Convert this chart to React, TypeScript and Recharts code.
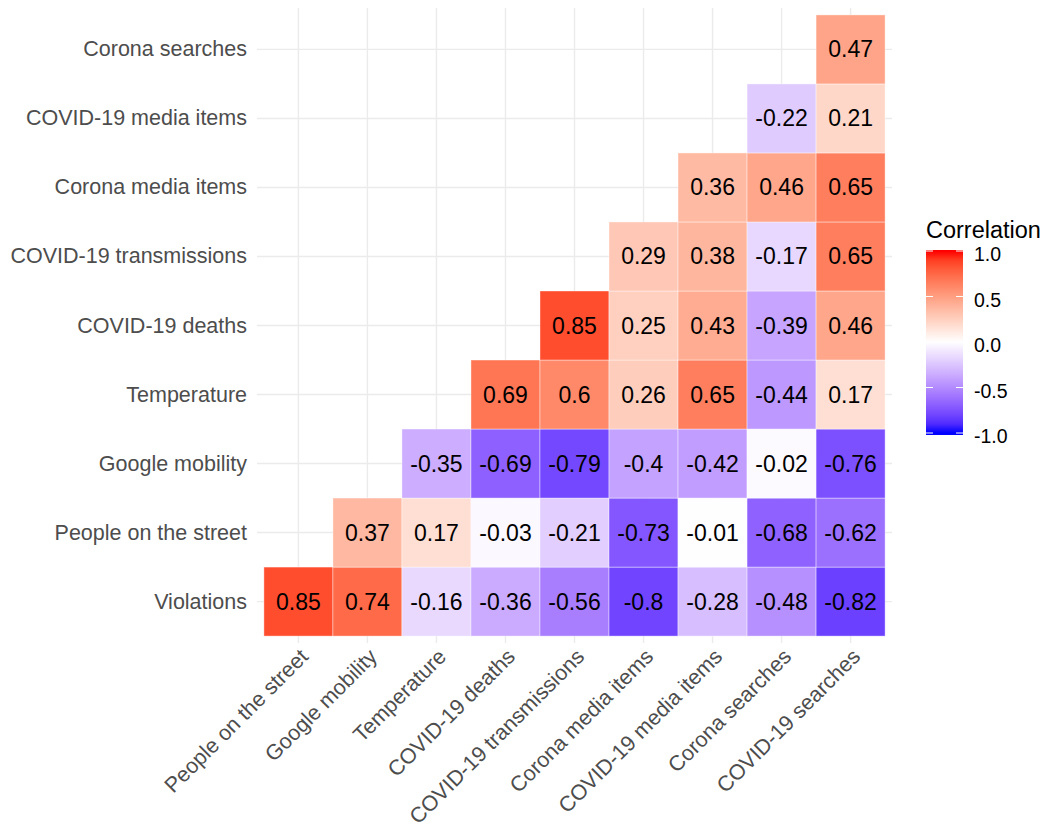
import { CartesianGrid, Scatter, ScatterChart, XAxis, YAxis } from "recharts";

const xLabels = [
  "People on the street",
  "Google mobility",
  "Temperature",
  "COVID-19 deaths",
  "COVID-19 transmissions",
  "Corona media items",
  "COVID-19 media items",
  "Corona searches",
  "COVID-19 searches",
];

// bottom to top
const yLabels = [
  "Violations",
  "People on the street",
  "Google mobility",
  "Temperature",
  "COVID-19 deaths",
  "COVID-19 transmissions",
  "Corona media items",
  "COVID-19 media items",
  "Corona searches",
];

// each row lines up with xLabels, null = empty (upper triangle)
const violations = [0.85, 0.74, -0.16, -0.36, -0.56, -0.8, -0.28, -0.48, -0.82];
const peopleOnStreet = [null, 0.37, 0.17, -0.03, -0.21, -0.73, -0.01, -0.68, -0.62];
const googleMobility = [null, null, -0.35, -0.69, -0.79, -0.4, -0.42, -0.02, -0.76];
const temperature = [null, null, null, 0.69, 0.6, 0.26, 0.65, -0.44, 0.17];
const covidDeaths = [null, null, null, null, 0.85, 0.25, 0.43, -0.39, 0.46];
const covidTransmissions = [null, null, null, null, null, 0.29, 0.38, -0.17, 0.65];
const coronaMedia = [null, null, null, null, null, null, 0.36, 0.46, 0.65];
const covidMedia = [null, null, null, null, null, null, null, -0.22, 0.21];
const coronaSearches = [null, null, null, null, null, null, null, null, 0.47];

const rows = [
  violations,
  peopleOnStreet,
  googleMobility,
  temperature,
  covidDeaths,
  covidTransmissions,
  coronaMedia,
  covidMedia,
  coronaSearches,
];

const legendTicks = [1, 0.5, 0, -0.5, -1];

// layout
const WIDTH = 1046;
const HEIGHT = 831;
const PLOT_LEFT = 257;
const PLOT_TOP = 8;
const PLOT_RIGHT = 892;
const PLOT_BOTTOM = 643;
const DOMAIN: [number, number] = [-0.6, 8.6];
const CELL = (PLOT_RIGHT - PLOT_LEFT) / (DOMAIN[1] - DOMAIN[0]);
const FONT = "'Liberation Sans', Arial, Helvetica, sans-serif";
const IDX = xLabels.map((_, i) => i);

// --- gradient2 (blue - white - red) interpolated in Lab, like ggplot ---
type Lab = [number, number, number];

function toLab(hex: string): Lab {
  const c = [1, 3, 5].map((i) => parseInt(hex.slice(i, i + 2), 16) / 255);
  const lin = c.map((v) => (v <= 0.04045 ? v / 12.92 : Math.pow((v + 0.055) / 1.055, 2.4)));
  const [r, g, b] = lin;
  const X = (0.4124 * r + 0.3576 * g + 0.1805 * b) / 0.95047;
  const Y = 0.2126 * r + 0.7152 * g + 0.0722 * b;
  const Z = (0.0193 * r + 0.1192 * g + 0.9505 * b) / 1.08883;
  const f = (t: number) => (t > 0.008856 ? Math.cbrt(t) : 7.787 * t + 16 / 116);
  const fx = f(X), fy = f(Y), fz = f(Z);
  return [116 * fy - 16, 500 * (fx - fy), 200 * (fy - fz)];
}

function fromLab([L, a, bb]: Lab): string {
  const fy = (L + 16) / 116;
  const fx = fy + a / 500;
  const fz = fy - bb / 200;
  const inv = (t: number) => (t * t * t > 0.008856 ? t * t * t : (t - 16 / 116) / 7.787);
  const X = inv(fx) * 0.95047, Y = inv(fy), Z = inv(fz) * 1.08883;
  const r = 3.2406 * X - 1.5372 * Y - 0.4986 * Z;
  const g = -0.9689 * X + 1.8758 * Y + 0.0415 * Z;
  const b = 0.0557 * X - 0.204 * Y + 1.057 * Z;
  const enc = (v: number) => {
    const s = v <= 0.0031308 ? 12.92 * v : 1.055 * Math.pow(v, 1 / 2.4) - 0.055;
    return Math.round(Math.min(1, Math.max(0, s)) * 255)
      .toString(16)
      .padStart(2, "0");
  };
  return `#${enc(r)}${enc(g)}${enc(b)}`;
}

const LAB_LOW = toLab("#0000ff");
const LAB_MID = toLab("#ffffff");
const LAB_HIGH = toLab("#ff0000");

function fillFor(v: number): string {
  const end = v >= 0 ? LAB_HIGH : LAB_LOW;
  const t = Math.min(1, Math.abs(v));
  return fromLab([0, 1, 2].map((i) => LAB_MID[i] + t * (end[i] - LAB_MID[i])) as Lab);
}

const cells = rows.flatMap((row, yi) =>
  row.flatMap((v, xi) => (v === null ? [] : [{ x: xi, y: yi, value: v }]))
);

function Tile(props: any) {
  const { cx, cy, payload } = props;
  return (
    <g>
      <rect
        x={cx - CELL / 2}
        y={cy - CELL / 2}
        width={CELL}
        height={CELL}
        fill={fillFor(payload.value)}
        stroke="#ffffff"
        strokeOpacity={0.5}
        strokeWidth={0.8}
      />
      <text
        x={cx}
        y={cy}
        textAnchor="middle"
        dominantBaseline="central"
        fontSize={23}
        fontFamily={FONT}
        fill="#000000"
      >
        {String(payload.value)}
      </text>
    </g>
  );
}

function XTick(props: any) {
  const { x, y, payload } = props;
  const ax = x + 11;
  const ay = y + 15;
  return (
    <text
      x={ax}
      y={ay}
      transform={`rotate(-45, ${ax}, ${ay})`}
      textAnchor="end"
      fontSize={21.5}
      fontFamily={FONT}
      fill="#4D4D4D"
    >
      {xLabels[payload.value]}
    </text>
  );
}

function YTick(props: any) {
  const { x, y, payload } = props;
  return (
    <text
      x={x}
      y={y}
      textAnchor="end"
      dominantBaseline="central"
      fontSize={21.5}
      fontFamily={FONT}
      fill="#4D4D4D"
    >
      {yLabels[payload.value]}
    </text>
  );
}

// colour bar
const BAR_X = 926;
const BAR_W = 37;
const BAR_TOP = 250;
const BAR_BOTTOM = 435;
const legendY = (v: number) => 342 - v * 91;
const gradientStops = Array.from({ length: 21 }, (_, i) => 1 - i * 0.1);

function ColourBar() {
  return (
    <svg
      width={WIDTH}
      height={HEIGHT}
      style={{ position: "absolute", left: 0, top: 0, pointerEvents: "none" }}
    >
      <defs>
        <linearGradient
          id="corr"
          gradientUnits="userSpaceOnUse"
          x1={0}
          x2={0}
          y1={legendY(1)}
          y2={legendY(-1)}
        >
          {gradientStops.map((v, i) => (
            <stop key={i} offset={i / (gradientStops.length - 1)} stopColor={fillFor(v)} />
          ))}
        </linearGradient>
      </defs>
      <text x={926} y={238} fontSize={23.5} fontFamily={FONT} fill="#000000">
        Correlation
      </text>
      <rect x={BAR_X} y={BAR_TOP} width={BAR_W} height={BAR_BOTTOM - BAR_TOP} fill="url(#corr)" />
      {legendTicks.map((v) => (
        <g key={v}>
          <line x1={BAR_X} x2={BAR_X + 7} y1={legendY(v)} y2={legendY(v)} stroke="#ffffff" strokeWidth={1} />
          <line
            x1={BAR_X + BAR_W - 7}
            x2={BAR_X + BAR_W}
            y1={legendY(v)}
            y2={legendY(v)}
            stroke="#ffffff"
            strokeWidth={1}
          />
          <text
            x={974}
            y={legendY(v) + 3}
            dominantBaseline="central"
            fontSize={19.5}
            fontFamily={FONT}
            fill="#000000"
          >
            {v.toFixed(1)}
          </text>
        </g>
      ))}
    </svg>
  );
}

export default function App() {
  return (
    <div
      style={{
        position: "absolute",
        left: 0,
        top: 0,
        width: WIDTH,
        height: HEIGHT,
        background: "#ffffff",
      }}
    >
      <ScatterChart
        width={WIDTH}
        height={HEIGHT}
        margin={{ top: PLOT_TOP, right: WIDTH - PLOT_RIGHT, bottom: 0, left: 0 }}
      >
        <CartesianGrid stroke="#EBEBEB" strokeWidth={1.4} syncWithTicks />
        <XAxis
          type="number"
          dataKey="x"
          domain={DOMAIN}
          ticks={IDX}
          interval={0}
          axisLine={false}
          tickLine={false}
          tickSize={0}
          tickMargin={0}
          height={HEIGHT - PLOT_BOTTOM}
          tick={<XTick />}
        />
        <YAxis
          type="number"
          dataKey="y"
          domain={DOMAIN}
          ticks={IDX}
          interval={0}
          axisLine={false}
          tickLine={false}
          tickSize={0}
          tickMargin={10}
          width={PLOT_LEFT}
          tick={<YTick />}
        />
        <Scatter data={cells} shape={<Tile />} isAnimationActive={false} />
      </ScatterChart>
      <ColourBar />
    </div>
  );
}
